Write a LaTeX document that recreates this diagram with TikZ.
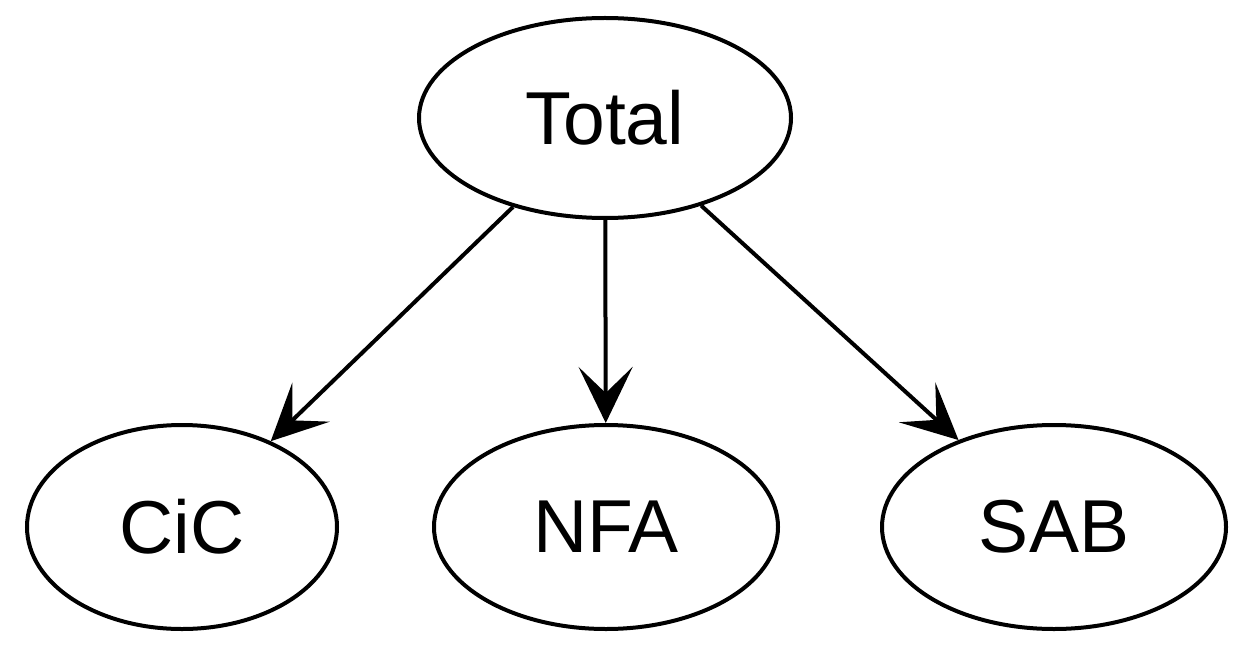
\documentclass[tikz,border=0pt]{standalone}
\usepackage{fontspec}
\setmainfont{Liberation Sans}
\usepackage{tikz}
\usetikzlibrary{arrows.meta, shapes.geometric}
\tikzset{
    enode/.style={ellipse,draw=black,line width=2pt,inner sep=0pt,
        font=\fontsize{37.5}{45}\selectfont},
    wide/.style={minimum width=172pt,minimum height=102pt},
    dgraph/.style={
        every node/.style=enode,
        every edge/.style={draw,line width=2pt,
            -{Stealth[length=28pt,width=27pt,inset=13pt]}},
    }
}
\begin{document}
\begin{tikzpicture}[dgraph,x=0.5pt,y=-0.5pt]
\useasboundingbox (0,0) rectangle (1245,668);
\node[minimum width=186pt,minimum height=100pt] (total) at (605,118) {Total};
\node[minimum width=155pt,minimum height=102pt] (cic) at (182,527) {CiC};
\node[wide] (nfa) at (606,527) {NFA};
\node[wide] (sab) at (1054,527) {SAB};
\path
    (total) edge (cic)
    (total) edge (nfa)
    (total) edge (sab)
;
\end{tikzpicture}
\end{document}
